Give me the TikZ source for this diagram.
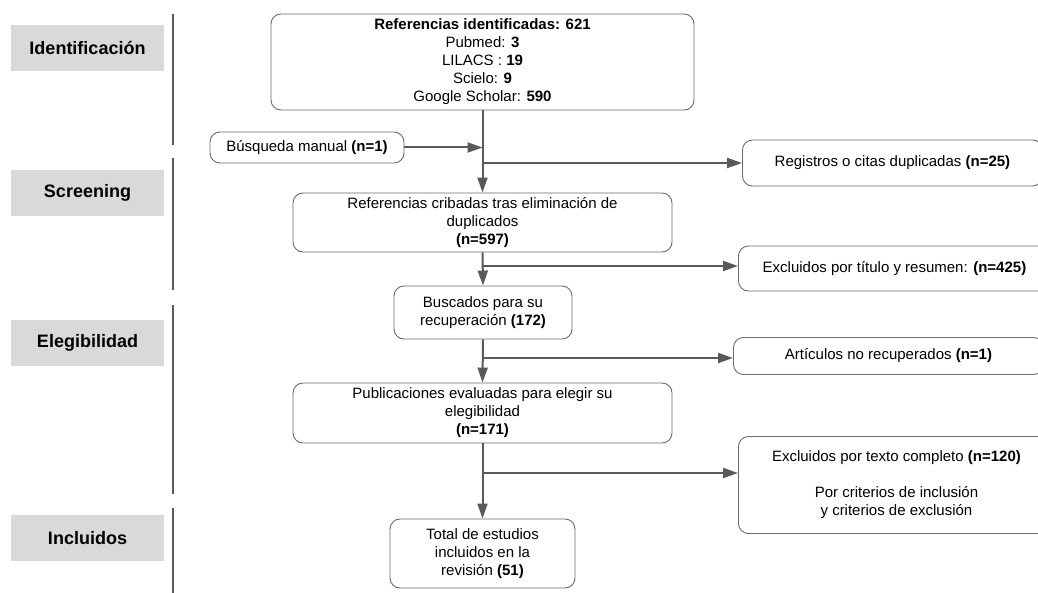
\documentclass[tikz,border=0pt]{standalone}
\usepackage{fontspec}
\setmainfont{Liberation Sans}
\usepackage{tikz}
\usetikzlibrary{arrows.meta}
\definecolor{linegray}{HTML}{595959}
\definecolor{boxgray}{HTML}{6A6A6A}
\definecolor{stagegray}{HTML}{D9D9D9}
\tikzset{
  stage/.style={rectangle, fill=stagegray, minimum width=153pt, minimum height=46pt, font=\fontsize{18}{21}\selectfont\bfseries},
  box/.style={rectangle, draw=boxgray, line width=0.9pt, rounded corners=10pt, align=center, font=\fontsize{15}{18}\selectfont, inner sep=0pt},
  sidebox/.style={box, anchor=west},
  arrow/.style={draw=linegray, line width=2pt, -{Triangle[length=15pt, width=10pt]}},
  branch/.style={draw=linegray, line width=2pt},
}

\begin{document}
\begin{tikzpicture}[x=1pt, y=-1pt]
          \useasboundingbox (0,0) rectangle (1038,593);

          % stages
          \node[stage] (sid) at (87.5,48) {Identificación};
          \node[stage] (sscr) at (87.5,193) {Screening};
          \node[stage] (sele) at (87.5,343) {Elegibilidad};
          \node[stage] (sinc) at (87.5,538) {Incluidos};
          \foreach \ya/\yb in {14/145, 158/290, 305/494, 508/600}
            \draw[linegray, line width=2pt] (173,\ya) -- (173,\yb);

          % main column
          \node[box, minimum width=423pt, minimum height=96pt] (ident) at (482.5,62) {\textbf{Referencias identificadas: 621} \\ Pubmed: \textbf{3} \\ LILACS : \textbf{19} \\ Scielo: \textbf{9} \\ Google Scholar: \textbf{590}};

          \node[box, minimum width=194pt, minimum height=31pt] (manual) at (307,147.5) {Búsqueda manual \textbf{(n=1)}};

          \node[box, minimum width=379pt, minimum height=59pt] (cribadas) at (482.5,222.5) {Referencias cribadas tras eliminación de \\ duplicados \\ \textbf{(n=597)}};

          \node[box, minimum width=178pt, minimum height=53pt] (buscados) at (483,312.5) {Buscados para su \\ recuperación \textbf{(172)}};

          \node[box, minimum width=379pt, minimum height=60pt] (evaluadas) at (482.5,413) {Publicaciones evaluadas para elegir su \\ elegibilidad \\ \textbf{(n=171)}};

          \node[box, minimum width=185pt, minimum height=69pt] (incluidos) at (482.5,553.5) {Total de estudios \\ incluidos en la \\ revisión \textbf{(51)}};

          % side column
          \node[sidebox, minimum width=300pt, minimum height=46pt] (duplic) at (742,163) {Registros o citas duplicadas \textbf{(n=25)}};

          \node[sidebox, minimum width=312pt, minimum height=45pt] (exctit) at (738,268.5) {Excluidos por título y resumen: \textbf{(n=425)}};

          \node[sidebox, minimum width=310pt, minimum height=37pt] (norec) at (733,356) {Artículos no recuperados \textbf{(n=1)}};

          \node[sidebox, minimum width=316pt, minimum height=97pt] (exctxt) at (738,485) {Excluidos por texto completo \textbf{(n=120)} \\[18pt] Por criterios de inclusión \\ y criterios de exclusión};

          % branch points
          \coordinate (b1) at (483,163);
          \coordinate (b2) at (483,266);
          \coordinate (b3) at (483,358);
          \coordinate (b4) at (483,473);

          \draw[arrow] (ident.south) -- (cribadas.north);
          \draw[arrow] (manual.east) -- (manual.east -| ident.south);
          \draw[arrow] (cribadas.south) -- (buscados.north);
          \draw[arrow] (buscados.south) -- (evaluadas.north);
          \draw[arrow] (evaluadas.south) -- (incluidos.north);

          \draw[arrow] (b1) -- (b1 -| duplic.west);
          \draw[arrow] (b2) -- (b2 -| exctit.west);
          \draw[arrow] (b3) -- (b3 -| norec.west);
          \draw[arrow] (b4) -- (b4 -| exctxt.west);
        \end{tikzpicture}
\end{document}
